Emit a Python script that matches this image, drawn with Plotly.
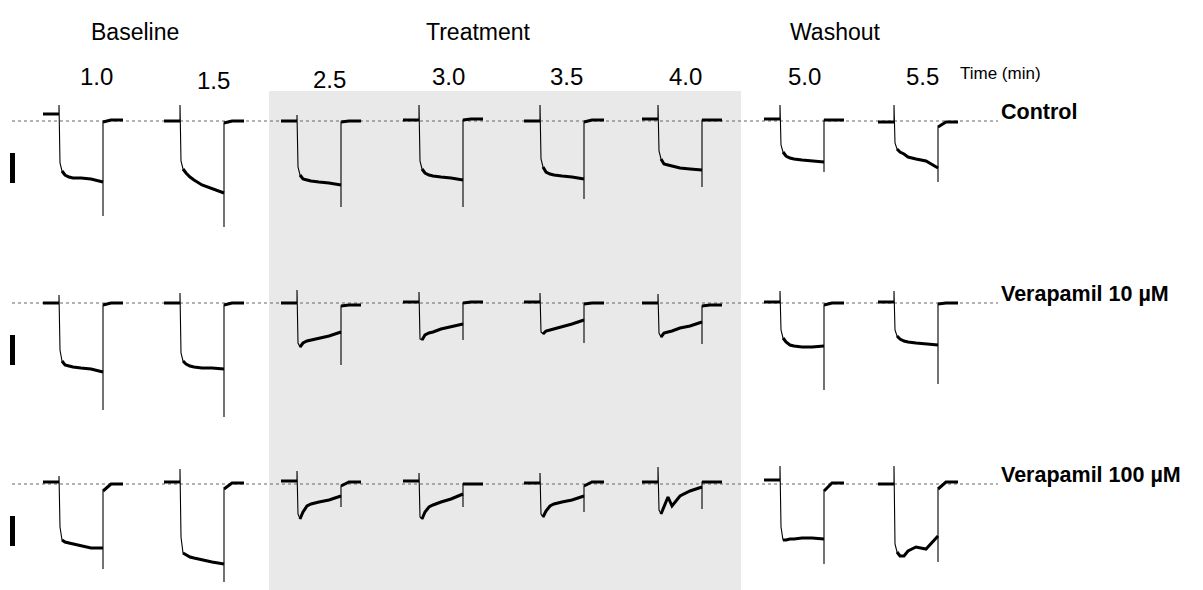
import plotly.graph_objects as go

# ---------------------------------------------------------------------------
# Whole-cell current sweeps: 3 conditions x 8 time points
# Currents in pA (positive = inward / downward deflection), times in ms
# ---------------------------------------------------------------------------
time_labels = ["1.0", "1.5", "2.5", "3.0", "3.5", "4.0", "5.0", "5.5"]
phase_labels = ["Baseline", "Treatment", "Washout"]
condition_labels = ["Control", "Verapamil 10 µM", "Verapamil 100 µM"]

# sample times within the pulse (ms after onset)
sample_t_ms = [2, 6, 12, 20, 28, 44, 64, 88]
pre_ms = 32
post_ms = 40
scale_bar_pa = 150

# --- Control ---------------------------------------------------------------
control_pre = [-35, 0, 0, -5, 0, -10, -10, 5]
control_spike = [80, 80, 30, 80, 80, 80, 80, 80]
control_pulse = [
    [210, 250, 270, 280, 285, 285, 290, 305],
    [200, 240, 260, 280, 295, 320, 340, 360],
    [230, 270, 290, 295, 300, 305, 310, 320],
    [200, 240, 260, 270, 275, 280, 285, 295],
    [190, 230, 255, 265, 270, 275, 280, 290],
    [150, 190, 215, 220, 225, 235, 240, 245],
    [120, 155, 175, 185, 190, 195, 200, 205],
    [110, 140, 155, 165, 180, 190, 200, 235],
]
control_tail = [475, 530, 430, 430, 390, 330, 255, 305]
control_post_start = [5, 10, 5, -5, 5, -5, -5, 30]
control_post_end = [-5, 0, 0, -10, -5, -5, -5, 5]

# --- Verapamil 10 uM ---------------------------------------------------------
vera10_pre = [0, 0, 0, -5, -5, 0, -5, -5]
vera10_spike = [40, 50, 65, 55, 50, 45, 60, 60]
vera10_pulse = [
    [235, 290, 310, 315, 320, 325, 330, 345],
    [250, 290, 305, 315, 320, 325, 325, 330],
    [200, 220, 200, 190, 185, 175, 165, 145],
    [180, 185, 160, 150, 145, 130, 120, 105],
    [145, 155, 140, 135, 130, 120, 105, 85],
    [150, 170, 150, 145, 140, 125, 115, 95],
    [135, 175, 195, 210, 215, 220, 220, 215],
    [135, 165, 180, 190, 195, 200, 205, 210],
]
vera10_tail = [535, 570, 310, 185, 200, 205, 435, 405]
vera10_post_start = [10, 10, 15, 0, 5, 15, 10, 5]
vera10_post_end = [0, 0, 10, -5, 0, 10, 0, 0]

# --- Verapamil 100 uM --------------------------------------------------------
vera100_pre = [-10, -10, -15, -15, -5, -10, -20, 0]
vera100_spike = [40, 75, 65, 55, 55, 85, 90, 90]
vera100_pulse = [
    [215, 280, 290, 295, 300, 310, 320, 320],
    [265, 345, 355, 365, 370, 380, 390, 400],
    [150, 175, 140, 110, 100, 90, 80, 60],
    [165, 175, 140, 115, 105, 90, 75, 50],
    [150, 165, 135, 110, 100, 90, 80, 60],
    [130, 150, 110, 65, 110, 60, 35, 15],
    [215, 280, 280, 275, 275, 270, 270, 275],
    [300, 340, 360, 360, 335, 315, 325, 260],
]
vera100_tail = [425, 490, 115, 115, 140, 125, 400, 390]
vera100_post_start = [35, 25, 10, 0, 10, -10, 35, 25]
vera100_post_end = [0, -5, -10, 0, -10, -10, -5, -10]

rows = [
    (control_pre, control_spike, control_pulse, control_tail, control_post_start, control_post_end),
    (vera10_pre, vera10_spike, vera10_pulse, vera10_tail, vera10_post_start, vera10_post_end),
    (vera100_pre, vera100_spike, vera100_pulse, vera100_tail, vera100_post_start, vera100_post_end),
]

# ---------------------------------------------------------------------------
# Page layout (canvas units = pixels)
# ---------------------------------------------------------------------------
W, H = 1203, 590
PX_PER_MS = 0.5
PX_PER_PA = 0.2
sweep_x = [59, 180, 297, 419, 540, 658, 780, 894]   # pulse onset of each sweep
row_y = [121, 303, 484]                              # holding-current level of each row
label_x = [96, 213, 329, 448, 566, 685, 804, 922]
label_y = [76, 80, 79, 76, 76, 76, 76, 76]

thin_x, thin_y, thick_x, thick_y = [], [], [], []

for r, (pre, spike, pulse, tail, post0, post1) in enumerate(rows):
    y0 = row_y[r]
    for c in range(8):
        x0 = sweep_x[c]
        X = lambda t: x0 + t * PX_PER_MS
        Y = lambda i: y0 + i * PX_PER_PA
        t_end = sample_t_ms[-1]
        xs = [X(-pre_ms), X(0), X(0)] + [X(t) for t in sample_t_ms] + \
             [X(t_end), X(t_end), X(t_end + 16), X(t_end + post_ms)]
        ys = [Y(pre[c]), Y(pre[c]), Y(-spike[c])] + [Y(v) for v in pulse[c]] + \
             [Y(tail[c]), Y(post0[c]), Y(post1[c]), Y(post1[c])]
        thin_x += xs + [None]
        thin_y += ys + [None]
        # noisy (thick) stretches: holding level, pulse plateau, recovery
        thick_x += [X(-pre_ms), X(0), None]
        thick_y += [Y(pre[c]), Y(pre[c]), None]
        thick_x += [X(t) for t in sample_t_ms[1:]] + [None]
        thick_y += [Y(v) for v in pulse[c][1:]] + [None]
        thick_x += [X(t_end), X(t_end + 16), X(t_end + post_ms), None]
        thick_y += [Y(post0[c]), Y(post1[c]), Y(post1[c]), None]

fig = go.Figure()

# dotted holding-level reference lines
for y0 in row_y:
    fig.add_trace(go.Scatter(x=[12, 998], y=[y0, y0], mode="lines",
                             line=dict(color="#666666", width=1, dash="dot"),
                             hoverinfo="skip", showlegend=False))

fig.add_trace(go.Scatter(x=thin_x, y=thin_y, mode="lines",
                         line=dict(color="black", width=1.1),
                         hoverinfo="skip", showlegend=False))
fig.add_trace(go.Scatter(x=thick_x, y=thick_y, mode="lines",
                         line=dict(color="black", width=3),
                         hoverinfo="skip", showlegend=False))

# vertical scale bars
sb_x, sb_y = [], []
for y0 in row_y:
    top = y0 + 160 * PX_PER_PA
    sb_x += [12.5, 12.5, None]
    sb_y += [top, top + scale_bar_pa * PX_PER_PA, None]
fig.add_trace(go.Scatter(x=sb_x, y=sb_y, mode="lines",
                         line=dict(color="black", width=5),
                         hoverinfo="skip", showlegend=False))

# treatment period shading
fig.add_shape(type="rect", x0=269, x1=741, y0=91, y1=H, layer="below",
              line=dict(width=0), fillcolor="#e9e9e9")

FONT = "Liberation Sans, Arial, sans-serif"
ann = []
for txt, x in zip(phase_labels, [135, 478, 835]):
    ann.append(dict(x=x, y=32, text=txt, font=dict(size=23, family=FONT, color="black")))
for txt, x, y in zip(time_labels, label_x, label_y):
    ann.append(dict(x=x, y=y, text=txt, font=dict(size=24, family=FONT, color="black")))
ann.append(dict(x=958, y=73, text="Time (min)", xanchor="left",
                font=dict(size=17, family=FONT, color="black")))
for txt, y0 in zip(condition_labels, row_y):
    ann.append(dict(x=999, y=y0 - 9, text="<b>" + txt + "</b>", xanchor="left",
                    font=dict(size=21.5, family=FONT, color="black")))
for a in ann:
    a.update(xref="x", yref="y", showarrow=False, yanchor=a.get("yanchor", "middle"))
    a.setdefault("xanchor", "center")

fig.update_layout(
    width=W, height=H,
    margin=dict(l=0, r=0, t=0, b=0),
    paper_bgcolor="white", plot_bgcolor="white",
    xaxis=dict(range=[0, W], visible=False, fixedrange=True),
    yaxis=dict(range=[H, 0], visible=False, fixedrange=True),
    annotations=ann,
)

fig.write_html("out.html")
